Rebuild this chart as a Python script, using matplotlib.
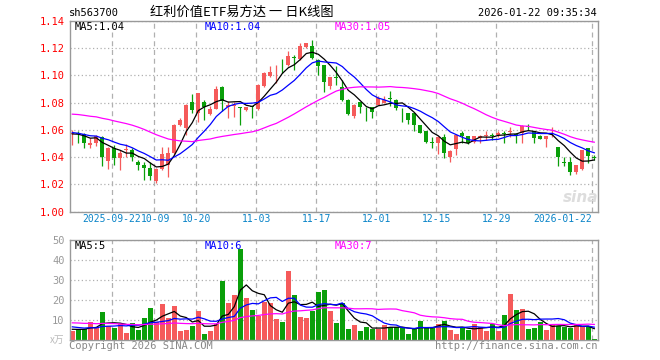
import numpy as np
import pandas as pd
import matplotlib
matplotlib.use("Agg")
import matplotlib.pyplot as plt

plt.rcParams['font.family'] = ['DejaVu Sans Mono']

W, H = 660, 360

# date ticks (candle index -> label)
tick_idx = [7, 14, 21, 31, 41, 51, 61, 71, 87]
tick_labels = ["2025-09-22", "10-09", "10-20", "11-03", "11-17",
               "12-01", "12-15", "12-29", "2026-01-22"]

# daily OHLC
opens = [1.0568, 1.0580, 1.0568, 1.0490, 1.0502, 1.0551, 1.0372, 1.0470, 1.0396, 1.0450,
         1.0453, 1.0362, 1.0343, 1.0323, 1.0227, 1.0313, 1.0343, 1.0428, 1.0637, 1.0617,
         1.0801, 1.0722, 1.0801, 1.0715, 1.0754, 1.0913, 1.0771, 1.0776, 1.0766, 1.0747,
         1.0773, 1.0754, 1.0918, 1.0992, 1.1014, 1.1084, 1.1073, 1.1134, 1.1119, 1.1205,
         1.1217, 1.1114, 1.1073, 1.0918, 1.0982, 1.0913, 1.0820, 1.0705, 1.0801, 1.0768,
         1.0764, 1.0784, 1.0796, 1.0830, 1.0820, 1.0754, 1.0722, 1.0722, 1.0632, 1.0588,
         1.0509, 1.0507, 1.0551, 1.0404, 1.0458, 1.0575, 1.0556, 1.0514, 1.0539, 1.0554,
         1.0558, 1.0563, 1.0572, 1.0583, 1.0570, 1.0580, 1.0626, 1.0588, 1.0558, 1.0531,
         1.0566, 1.0472, 1.0362, 1.0362, 1.0294, 1.0311, 1.0465, 1.0401]
highs = [1.0600, 1.0595, 1.0575, 1.0539, 1.0563, 1.0556, 1.0472, 1.0490, 1.0453, 1.0494,
         1.0465, 1.0379, 1.0367, 1.0367, 1.0318, 1.0472, 1.0472, 1.0640, 1.0690, 1.0790,
         1.0862, 1.0872, 1.0820, 1.0776, 1.0918, 1.0918, 1.0808, 1.0801, 1.0771, 1.0766,
         1.0778, 1.0935, 1.1021, 1.1070, 1.1078, 1.1119, 1.1176, 1.1145, 1.1237, 1.1240,
         1.1261, 1.1120, 1.1078, 1.0990, 1.1070, 1.0967, 1.0825, 1.0788, 1.0805, 1.0771,
         1.0766, 1.0850, 1.0845, 1.0882, 1.0825, 1.0759, 1.0725, 1.0725, 1.0635, 1.0592,
         1.0546, 1.0553, 1.0570, 1.0450, 1.0565, 1.0595, 1.0558, 1.0558, 1.0563, 1.0592,
         1.0580, 1.0588, 1.0595, 1.0624, 1.0575, 1.0632, 1.0644, 1.0592, 1.0560, 1.0558,
         1.0624, 1.0475, 1.0404, 1.0399, 1.0345, 1.0455, 1.0468, 1.0416]
lows = [1.0490, 1.0507, 1.0465, 1.0465, 1.0480, 1.0335, 1.0311, 1.0343, 1.0306, 1.0404,
        1.0372, 1.0306, 1.0232, 1.0232, 1.0208, 1.0306, 1.0257, 1.0425, 1.0630, 1.0563,
        1.0722, 1.0661, 1.0673, 1.0710, 1.0750, 1.0739, 1.0686, 1.0693, 1.0637, 1.0740,
        1.0686, 1.0747, 1.0913, 1.0990, 1.0943, 1.1016, 1.1070, 1.1041, 1.1110, 1.1200,
        1.1119, 1.1004, 1.0874, 1.0899, 1.0930, 1.0815, 1.0712, 1.0690, 1.0722, 1.0668,
        1.0686, 1.0780, 1.0794, 1.0776, 1.0747, 1.0654, 1.0641, 1.0588, 1.0575, 1.0502,
        1.0465, 1.0423, 1.0396, 1.0367, 1.0416, 1.0507, 1.0494, 1.0502, 1.0502, 1.0526,
        1.0526, 1.0551, 1.0502, 1.0551, 1.0502, 1.0507, 1.0600, 1.0507, 1.0530, 1.0472,
        1.0546, 1.0335, 1.0335, 1.0269, 1.0276, 1.0306, 1.0360, 1.0379]
closes = [1.0575, 1.0570, 1.0507, 1.0500, 1.0556, 1.0404, 1.0465, 1.0396, 1.0428, 1.0455,
          1.0404, 1.0343, 1.0318, 1.0264, 1.0311, 1.0423, 1.0428, 1.0637, 1.0673, 1.0784,
          1.0742, 1.0869, 1.0771, 1.0754, 1.0899, 1.0808, 1.0784, 1.0784, 1.0761, 1.0764,
          1.0764, 1.0930, 1.1016, 1.1021, 1.1018, 1.1080, 1.1139, 1.1129, 1.1212, 1.1237,
          1.1127, 1.1065, 1.0948, 1.0984, 1.0978, 1.0820, 1.0717, 1.0784, 1.0771, 1.0764,
          1.0730, 1.0833, 1.0820, 1.0826, 1.0759, 1.0750, 1.0673, 1.0632, 1.0580, 1.0514,
          1.0505, 1.0551, 1.0433, 1.0448, 1.0563, 1.0556, 1.0507, 1.0556, 1.0556, 1.0558,
          1.0554, 1.0575, 1.0568, 1.0587, 1.0565, 1.0629, 1.0622, 1.0539, 1.0534, 1.0556,
          1.0570, 1.0404, 1.0358, 1.0294, 1.0343, 1.0453, 1.0409, 1.0397]

# volume in 10k lots
volumes = [4.7, 5.7, 5.7, 9.2, 6.8, 14.2, 7.2, 6.3, 8.2, 3.7,
           8.5, 5.3, 11.3, 16.2, 9.0, 18.2, 11.3, 17.2, 4.7, 5.3,
           7.2, 14.7, 3.2, 4.7, 8.2, 29.7, 18.7, 22.7, 45.7, 21.2,
           15.2, 12.2, 19.2, 18.7, 10.7, 9.2, 34.7, 22.7, 11.7, 11.2,
           14.7, 24.2, 25.2, 14.7, 8.7, 18.7, 5.7, 7.7, 4.7, 6.7,
           5.7, 5.7, 7.7, 6.7, 6.7, 6.2, 3.2, 5.7, 9.7, 6.2,
           6.2, 8.2, 9.7, 5.2, 3.2, 6.7, 5.2, 8.2, 6.7, 4.7,
           8.2, 4.7, 12.7, 23.2, 15.2, 15.7, 5.7, 6.2, 9.2, 5.2,
           8.2, 7.2, 6.7, 6.2, 7.7, 7.2, 7.2, 0.7]

# sessions before the visible window (estimated so the MA lines start where they do)
hist_close = [1.066, 1.068, 1.070, 1.069, 1.072, 1.071, 1.073, 1.072, 1.075, 1.0755,
              1.078, 1.082, 1.085, 1.088, 1.090, 1.089, 1.087, 1.086, 1.085, 1.0835,
              1.062, 1.060, 1.059, 1.058, 1.056, 1.058, 1.0567, 1.0585, 1.0543]
hist_volume = [8, 11, 9, 12, 10, 8, 9, 13, 10, 9, 11, 8, 10, 9, 12, 8, 9, 10, 9, 9,
               9, 8.5, 7, 8, 7, 6, 5.5, 5.8, 5.5]

price_ma_text = ["MA5:1.04", "MA10:1.04", "MA30:1.05"]
vol_ma_text = ["MA5:5", "MA10:6", "MA30:7"]

RED = '#f55a5a'
GREEN = '#0a9f0a'
MA_COLORS = ['black', '#0000ff', '#ff00ff']

n = len(closes)
x = np.arange(n)
o = np.array(opens)
c = np.array(closes)
up = c >= o
colors = np.where(up, RED, GREEN)

cs = pd.Series(hist_close + closes)
vs = pd.Series(hist_volume + volumes)
price_ma = [cs.rolling(k).mean().values[-n:] for k in (5, 10, 30)]
vol_ma = [vs.rolling(k).mean().values[-n:] for k in (5, 10, 30)]

fig = plt.figure(figsize=(W / 100, H / 100), dpi=100)
fig.patch.set_facecolor('white')

ax = fig.add_axes([70 / W, 1 - 211.7 / H, 527.7 / W, 191 / H])
axv = fig.add_axes([70 / W, 1 - 340.3 / H, 527.7 / W, 100.3 / H])

xt = [i - 0.333 for i in tick_idx]
for a in (ax, axv):
    a.set_xlim(-0.383, 87.57)
    a.set_axisbelow(True)
    for s in a.spines.values():
        s.set_color('#999999')
        s.set_linewidth(1.0)
    a.set_xticks(xt)
    a.set_xticklabels([])
    a.tick_params(axis='x', length=0)
    a.grid(axis='x', color='#b0b0b0', linestyle=(0, (4, 3)), linewidth=0.9)
    a.grid(axis='y', color='#b0b0b0', linestyle=(0, (1, 2)), linewidth=0.9)

# price panel
ax.vlines(x, lows, highs, colors=colors, linewidth=0.9)
body = np.maximum(np.abs(c - o), 0.0006)
ax.bar(x, body, bottom=np.minimum(o, c), width=0.72, color=colors, linewidth=0)
for ma, col in zip(price_ma, MA_COLORS):
    ax.plot(x, ma, color=col, linewidth=0.9)
ax.set_ylim(1.00, 1.14)
yt = np.arange(1.00, 1.141, 0.02)
ax.set_yticks(yt)
ax.set_yticklabels([f"{v:.2f}" for v in yt])
ax.tick_params(axis='y', length=0, pad=4, labelcolor='#ff0000', labelsize=7.5)

# date labels: first two sit edge to edge, the last one ends at its line
nudge = [-0.1, 0.2, 0, 0, 0, 0, 0, 0, 0]
for k, (pos, lab) in enumerate(zip(xt, tick_labels)):
    ha = 'right' if k == len(xt) - 1 else 'center'
    ax.text(pos + nudge[k], -0.038, lab, transform=ax.get_xaxis_transform(),
            ha=ha, va='center', fontsize=7, color='#0a84c8')

# volume panel
axv.bar(x, volumes, width=0.78, color=colors, linewidth=0)
for ma, col in zip(vol_ma, MA_COLORS):
    axv.plot(x, ma, color=col, linewidth=0.9)
axv.set_ylim(0, 50)
axv.set_yticks([10, 20, 30, 40, 50])
axv.tick_params(axis='y', length=0, pad=4, labelcolor='#999999', labelsize=7.5)


def fx(px):
    return px / W


def fy(py):
    return 1 - py / H


cjk = ['Noto Sans CJK SC', 'DejaVu Sans']
fig.text(fx(69), fy(13.5), "sh563700", fontsize=7.5, va='center')
fig.text(fx(242), fy(12.5), "红利价值ETF易方达 一 日K线图", family=cjk,
         fontsize=9.5, ha='center', va='center')
fig.text(fx(597), fy(13), "2026-01-22 09:35:34", fontsize=7.5, ha='right', va='center')

for txt, col, px in zip(price_ma_text, MA_COLORS, (75, 205, 335)):
    fig.text(fx(px), fy(26.5), txt, color=col, fontsize=7.5, va='center')
for txt, col, px in zip(vol_ma_text, MA_COLORS, (75, 205, 335)):
    fig.text(fx(px), fy(246), txt, color=col, fontsize=7.5, va='center')

fig.text(fx(581), fy(197), "sina", family='DejaVu Sans', fontsize=11, fontweight='bold',
         style='italic', color='#dddddd', ha='center', va='center')
fig.text(fx(64), fy(339.5), "x万", family=cjk, fontsize=7, color='#bbbbbb',
         ha='right', va='center')
fig.text(fx(69), fy(346), "Copyright 2026 SINA.COM", fontsize=7.5, color='#888888',
         va='center')
fig.text(fx(597), fy(346), "http://finance.sina.com.cn", fontsize=7.5, color='#888888',
         ha='right', va='center')

fig.savefig("out.png", dpi=100)
